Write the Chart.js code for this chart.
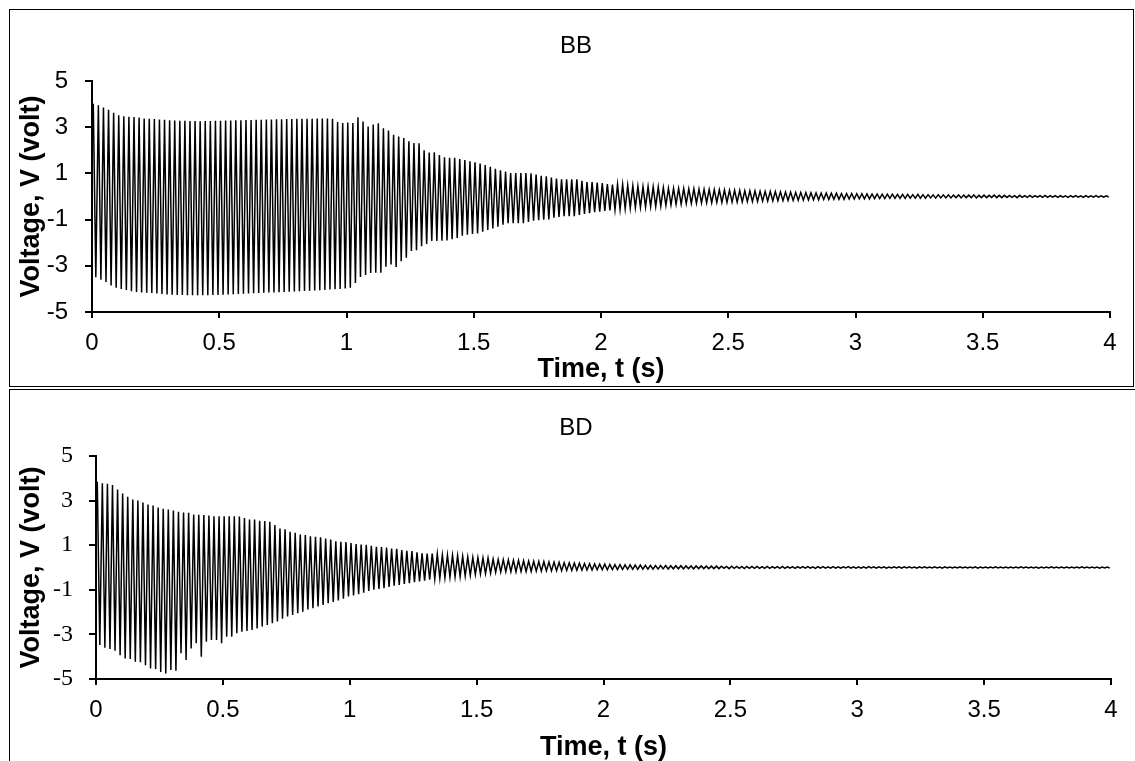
<!DOCTYPE html>
<html><head><meta charset="utf-8">
<script src="https://cdn.jsdelivr.net/npm/chart.js@4.4.1/dist/chart.umd.min.js"></script>
<style>
html,body{margin:0;padding:0;background:#fff;width:1135px;height:761px;overflow:hidden;position:relative;}
.panel{position:absolute;border:1px solid #000;box-sizing:border-box;background:#fff;overflow:hidden;}
#p1{left:9px;top:9px;width:1125px;height:378px;}
#p2{left:9px;top:389px;width:1140px;height:400px;}
canvas{position:absolute;left:0;top:0;}
.ttl{position:absolute;font-family:"Liberation Sans",Arial,sans-serif;font-size:24px;line-height:1;transform:translate(-50%,-50%);color:#000;white-space:nowrap;}
</style></head><body>
<div class="panel" id="p1"><canvas id="c1" width="1123" height="376" style="width:1123px;height:376px"></canvas></div>
<div class="panel" id="p2"><canvas id="c2" width="1125" height="374" style="width:1125px;height:374px"></canvas></div>
<div class="ttl" style="left:576px;top:45px">BB</div>
<div class="ttl" style="left:576px;top:427px">BD</div>
<script>
// one oscillation cycle every 0.02 s (about 50 Hz); values are the peak and trough of each cycle
const cyclePeriod = 0.02;
const xTicks = {min: 0, max: 4, step: 0.5};
const yTicks = {min: -5, max: 5, step: 2};
const titles = ["BB", "BD"];

const bbHigh = [
 4.02,3.95,3.85,3.75,3.62,3.52,3.47,3.45,3.44,3.42,
 3.38,3.36,3.35,3.33,3.32,3.30,3.29,3.28,3.28,3.27,
 3.27,3.26,3.27,3.27,3.28,3.28,3.29,3.29,3.30,3.30,
 3.31,3.31,3.32,3.32,3.33,3.33,3.34,3.34,3.35,3.35,
 3.36,3.36,3.37,3.37,3.38,3.38,3.38,3.37,3.22,3.18,
 3.20,3.18,3.43,3.25,3.03,3.12,3.17,2.95,2.86,2.67,
 2.60,2.53,2.39,2.32,2.30,2.00,1.90,1.92,1.80,1.70,
 1.68,1.68,1.62,1.58,1.52,1.48,1.43,1.36,1.29,1.20,
 1.14,1.08,1.02,1.02,1.02,1.02,1.00,0.95,0.90,0.87,
 0.82,0.78,0.74,0.74,0.74,0.74,0.68,0.63,0.63,0.60,
 0.58,0.54,0.52,0.52,0.52,0.48,0.46,0.44,0.43,0.43,
 0.42,0.41,0.38,0.36,0.35,0.35,0.34,0.33,0.33,0.32,
 0.31,0.30,0.30,0.29,0.28,0.27,0.27,0.26,0.25,0.25,
 0.24,0.23,0.22,0.22,0.21,0.20,0.19,0.19,0.18,0.18,
 0.17,0.16,0.16,0.15,0.15,0.14,0.14,0.13,0.13,0.13,
 0.12,0.12,0.11,0.11,0.11,0.10,0.10,0.10,0.09,0.09,
 0.09,0.08,0.09,0.08,0.08,0.07,0.08,0.07,0.07,0.06,
 0.07,0.06,0.06,0.07,0.05,0.06,0.05,0.06,0.05,0.05,
 0.05,0.04,0.05,0.04,0.05,0.04,0.04,0.05,0.04,0.04,
 0.04,0.03,0.04,0.04,0.03,0.04,0.03,0.04,0.03,0.03
];
const bbLow = [
 -3.50,-3.60,-3.70,-3.85,-3.95,-4.00,-4.05,-4.10,-4.13,-4.15,
 -4.17,-4.18,-4.20,-4.22,-4.24,-4.25,-4.26,-4.26,-4.27,-4.27,
 -4.27,-4.27,-4.27,-4.26,-4.26,-4.25,-4.24,-4.23,-4.22,-4.21,
 -4.20,-4.19,-4.18,-4.17,-4.16,-4.15,-4.14,-4.13,-4.12,-4.11,
 -4.10,-4.09,-4.08,-4.07,-4.06,-4.05,-4.03,-4.01,-4.00,-3.98,
 -3.95,-3.74,-3.48,-3.40,-3.31,-3.30,-3.30,-3.04,-2.94,-3.05,
 -2.80,-2.65,-2.36,-2.33,-2.15,-2.05,-1.93,-1.93,-1.92,-1.90,
 -1.85,-1.80,-1.70,-1.65,-1.62,-1.60,-1.52,-1.45,-1.38,-1.31,
 -1.22,-1.16,-1.16,-1.16,-1.16,-1.10,-1.05,-1.03,-1.00,-0.99,
 -0.92,-0.88,-0.85,-0.85,-0.85,-0.80,-0.76,-0.72,-0.68,-0.66,
 -0.62,-0.60,-0.57,-0.56,-0.53,-0.50,-0.48,-0.47,-0.45,-0.44,
 -0.43,-0.42,-0.38,-0.36,-0.34,-0.33,-0.31,-0.30,-0.29,-0.28,
 -0.27,-0.27,-0.26,-0.26,-0.25,-0.24,-0.24,-0.23,-0.22,-0.22,
 -0.21,-0.20,-0.20,-0.19,-0.18,-0.18,-0.17,-0.17,-0.16,-0.16,
 -0.15,-0.14,-0.14,-0.13,-0.13,-0.12,-0.12,-0.12,-0.11,-0.11,
 -0.10,-0.10,-0.10,-0.09,-0.09,-0.09,-0.08,-0.08,-0.08,-0.08,
 -0.07,-0.07,-0.07,-0.07,-0.06,-0.07,-0.06,-0.06,-0.06,-0.05,
 -0.06,-0.05,-0.05,-0.06,-0.05,-0.05,-0.04,-0.05,-0.05,-0.04,
 -0.04,-0.05,-0.04,-0.04,-0.04,-0.03,-0.04,-0.04,-0.03,-0.04,
 -0.03,-0.04,-0.03,-0.03,-0.04,-0.03,-0.03,-0.03,-0.03,-0.02
];
const bdHigh = [
 3.85,3.78,3.75,3.70,3.50,3.32,3.17,3.05,3.00,2.91,
 2.83,2.78,2.69,2.63,2.60,2.56,2.50,2.47,2.45,2.38,
 2.36,2.35,2.33,2.30,2.30,2.30,2.30,2.30,2.29,2.22,
 2.15,2.15,2.10,2.08,2.05,1.90,1.75,1.71,1.60,1.56,
 1.48,1.46,1.40,1.38,1.36,1.30,1.25,1.18,1.15,1.14,
 1.10,1.05,1.03,1.02,0.97,0.93,0.92,0.90,0.85,0.84,
 0.78,0.75,0.74,0.68,0.64,0.63,0.62,0.60,0.56,0.55,
 0.54,0.53,0.50,0.47,0.45,0.44,0.43,0.42,0.38,0.36,
 0.35,0.34,0.33,0.32,0.30,0.29,0.28,0.27,0.26,0.25,
 0.24,0.23,0.22,0.21,0.20,0.19,0.18,0.17,0.16,0.15,
 0.15,0.14,0.13,0.13,0.12,0.12,0.11,0.11,0.10,0.10,
 0.09,0.09,0.09,0.08,0.08,0.08,0.07,0.07,0.07,0.07,
 0.06,0.06,0.06,0.06,0.05,0.06,0.05,0.05,0.05,0.05,
 0.05,0.04,0.05,0.04,0.04,0.05,0.04,0.04,0.04,0.04,
 0.04,0.03,0.04,0.04,0.03,0.04,0.03,0.03,0.04,0.03,
 0.03,0.03,0.04,0.03,0.03,0.03,0.02,0.03,0.03,0.03,
 0.03,0.02,0.03,0.03,0.02,0.03,0.02,0.03,0.02,0.02,
 0.03,0.02,0.02,0.03,0.02,0.02,0.02,0.03,0.02,0.02,
 0.02,0.02,0.03,0.02,0.02,0.02,0.02,0.02,0.03,0.02,
 0.02,0.02,0.02,0.02,0.03,0.02,0.02,0.02,0.02,0.02
];
const bdLow = [
 -3.48,-3.60,-3.65,-3.73,-3.93,-4.08,-4.10,-4.23,-4.25,-4.38,
 -4.53,-4.55,-4.68,-4.75,-4.60,-4.63,-3.85,-4.15,-3.63,-3.40,
 -4.00,-3.33,-3.25,-3.25,-3.40,-3.10,-3.10,-2.95,-2.88,-2.85,
 -2.80,-2.73,-2.65,-2.58,-2.50,-2.42,-2.30,-2.20,-2.13,-2.05,
 -1.98,-1.88,-1.83,-1.75,-1.68,-1.60,-1.55,-1.48,-1.40,-1.30,
 -1.25,-1.20,-1.13,-1.05,-1.00,-0.96,-0.93,-0.87,-0.82,-0.78,
 -0.74,-0.70,-0.66,-0.62,-0.59,-0.55,-0.52,-0.48,-0.46,-0.44,
 -0.42,-0.41,-0.38,-0.35,-0.31,-0.29,-0.27,-0.25,-0.22,-0.20,
 -0.19,-0.19,-0.19,-0.18,-0.18,-0.17,-0.16,-0.16,-0.15,-0.15,
 -0.14,-0.14,-0.13,-0.13,-0.12,-0.12,-0.11,-0.11,-0.10,-0.10,
 -0.10,-0.09,-0.09,-0.09,-0.08,-0.08,-0.08,-0.07,-0.07,-0.07,
 -0.07,-0.06,-0.07,-0.06,-0.06,-0.06,-0.05,-0.06,-0.05,-0.05,
 -0.05,-0.05,-0.05,-0.04,-0.05,-0.04,-0.04,-0.05,-0.04,-0.04,
 -0.04,-0.04,-0.04,-0.03,-0.04,-0.04,-0.03,-0.04,-0.03,-0.03,
 -0.03,-0.04,-0.03,-0.03,-0.03,-0.03,-0.03,-0.02,-0.03,-0.03,
 -0.03,-0.03,-0.02,-0.03,-0.02,-0.03,-0.02,-0.02,-0.03,-0.02,
 -0.02,-0.03,-0.02,-0.02,-0.02,-0.02,-0.03,-0.02,-0.02,-0.02,
 -0.02,-0.02,-0.02,-0.03,-0.02,-0.02,-0.02,-0.02,-0.02,-0.02,
 -0.02,-0.02,-0.02,-0.02,-0.02,-0.03,-0.02,-0.02,-0.02,-0.02,
 -0.02,-0.02,-0.02,-0.02,-0.02,-0.02,-0.02,-0.03,-0.02,-0.02
];

function buildPoints(high, low) {
  const pts = [];
  for (let i = 0; i < high.length; i++) {
    pts.push({x: (i + 0.25) * cyclePeriod, y: high[i]});
    pts.push({x: (i + 0.75) * cyclePeriod, y: low[i]});
  }
  return pts;
}

function makeChart(id, points, cfg) {
  const sans = "'Liberation Sans', Arial, sans-serif";
  return new Chart(document.getElementById(id), {
    type: 'line',
    data: {datasets: [{data: points, borderColor: '#000', borderWidth: 1.5, pointRadius: 0, tension: 0, fill: false}]},
    options: {
      responsive: false, animation: false, parsing: false, normalized: true,
      layout: {padding: {top: cfg.top, right: cfg.right, left: 0, bottom: 0}},
      plugins: {legend: {display: false}, tooltip: {enabled: false}, title: {display: false}},
      scales: {
        x: {
          type: 'linear', min: xTicks.min, max: xTicks.max,
          afterFit: s => { s.height = cfg.xH; },
          ticks: {stepSize: xTicks.step, color: '#000', padding: 11, maxRotation: 0, autoSkip: false,
                  callback: v => String(v),
                  font: {family: sans, size: 24}},
          grid: {drawOnChartArea: false, drawTicks: true, tickLength: 6, color: '#000', lineWidth: 2},
          border: {display: true, color: '#000', width: 2},
          title: {display: true, text: 'Time, t (s)', color: '#000', padding: {top: 0, bottom: 0},
                  font: {family: sans, size: 27, weight: 'bold', lineHeight: 1.2}}
        },
        y: {
          type: 'linear', min: yTicks.min, max: yTicks.max,
          afterFit: s => { s.width = cfg.yW; },
          ticks: {stepSize: yTicks.step, color: '#000', padding: cfg.yPad,
                  font: {family: cfg.yFont, size: 24}},
          grid: {drawOnChartArea: false, drawTicks: true, tickLength: 7, color: '#000', lineWidth: 2},
          border: {display: true, color: '#000', width: 2},
          title: {display: true, text: 'Voltage, V (volt)', color: '#000', padding: {top: 5, bottom: 0},
                  font: {family: sans, size: 27, weight: 'bold', lineHeight: 1.2}}
        }
      }
    }
  });
}

makeChart('c1', buildPoints(bbHigh, bbLow),
  {top: 71, right: 23, xH: 74, yW: 82, yPad: 17, yFont: "'Liberation Sans', Arial, sans-serif"});
makeChart('c2', buildPoints(bdHigh, bdLow),
  {top: 66, right: 24, xH: 85, yW: 86, yPad: 16, yFont: "'Liberation Serif', 'Times New Roman', serif"});
</script>
</body></html>
